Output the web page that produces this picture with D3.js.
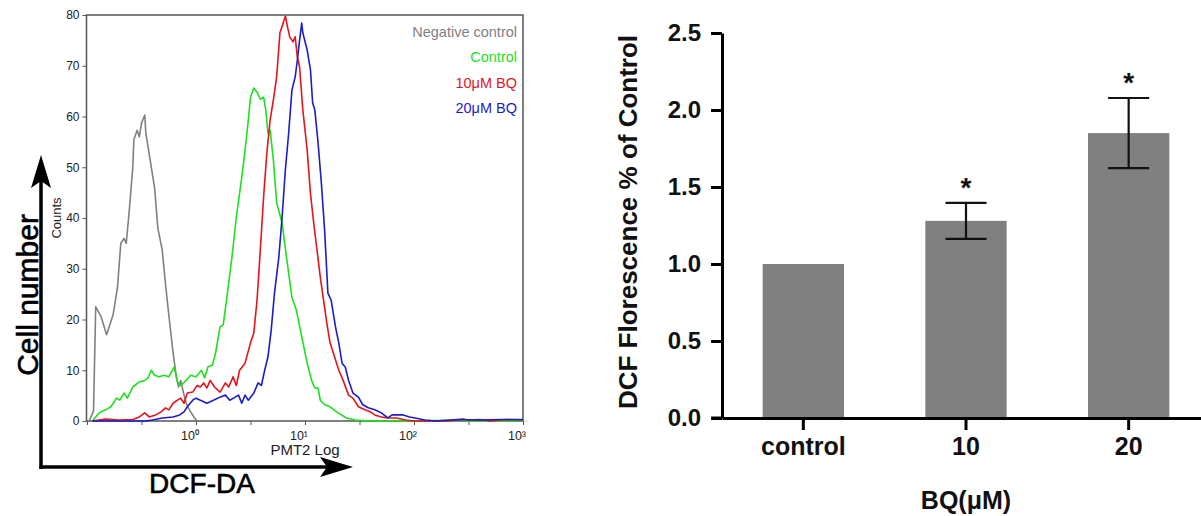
<!DOCTYPE html>
<html><head><meta charset="utf-8">
<script src="https://cdn.jsdelivr.net/npm/d3@7/dist/d3.min.js"></script>
<style>
html,body{margin:0;padding:0;background:#fff;}
svg{display:block;font-family:"Liberation Sans",Arial,sans-serif;}
</style></head>
<body>
<svg id="chart" width="1201" height="516"></svg>
<script>
// ---------- Left panel: flow cytometry histograms (x = log10 PMT2, y = counts) ----------
const histTicksY = [0,10,20,30,40,50,60,70,80];
const histTicksX = [-1,-0.5,0,0.5,1,1.5,2,2.5,3];
const histDecadeLabels = [[0,"10\u2070"],[1,"10\u00B9"],[2,"10\u00B2"],[3,"10\u00B3"]];
const seriesNames = ["Negative control","Control","10\u03BCM BQ","20\u03BCM BQ"];
const seriesColors = ["#808080","#1ee01e","#e3151b","#1c1cc8"];

const negativeControl = [[-0.98,0],[-0.94,2],[-0.92,22.5],[-0.87,20.5],[-0.82,17],[-0.76,21],[-0.72,26.4],[-0.69,35],[-0.66,36],[-0.64,35],[-0.61,42],[-0.58,50],[-0.57,55.4],[-0.54,57.3],[-0.52,56],[-0.50,58.7],[-0.47,60.3],[-0.46,56.7],[-0.41,50],[-0.38,46],[-0.35,38],[-0.31,33.7],[-0.28,27],[-0.25,21],[-0.21,13.4],[-0.18,8.7],[-0.16,6.7],[-0.14,8],[-0.12,6],[-0.09,3.5],[-0.06,2.2],[-0.02,0.8],[0.01,0]];

const control = [[-0.95,0],[-0.89,1.6],[-0.83,2.2],[-0.78,2.8],[-0.73,4.5],[-0.70,4.1],[-0.66,5.5],[-0.63,4.5],[-0.58,6.7],[-0.52,7.7],[-0.47,8],[-0.44,8.5],[-0.41,10],[-0.38,9],[-0.34,8.7],[-0.29,9],[-0.25,8.7],[-0.20,10.6],[-0.17,7.7],[-0.14,7],[-0.09,8],[-0.05,9],[0.00,8.7],[0.05,10],[0.08,8.5],[0.11,10.7],[0.15,11],[0.18,13.4],[0.22,18.5],[0.25,19],[0.28,23.8],[0.33,32.3],[0.37,40.2],[0.42,48],[0.45,53.4],[0.48,59.3],[0.50,63.8],[0.53,65.6],[0.56,64.8],[0.59,63.4],[0.62,63.8],[0.64,61.3],[0.66,56.7],[0.68,57.3],[0.71,51.4],[0.74,43],[0.79,39],[0.83,32.3],[0.88,24.4],[0.92,21.9],[0.97,16.6],[1.02,11.4],[1.06,8],[1.09,6.5],[1.12,6.5],[1.14,4.1],[1.18,3.2],[1.23,2.8],[1.29,1.8],[1.38,0.6],[1.46,0.2],[1.6,0],[2.0,0],[2.4,0.2],[2.5,0],[3.0,0]];

const bq10 = [[-0.95,0],[-0.83,0.4],[-0.70,0.2],[-0.58,0.3],[-0.52,0.8],[-0.47,1.6],[-0.43,0.8],[-0.37,1.2],[-0.32,1.8],[-0.28,2.6],[-0.25,2.2],[-0.21,3.5],[-0.17,4.1],[-0.14,4.5],[-0.11,3.5],[-0.08,5.5],[-0.03,5.7],[0.01,7],[0.04,6.7],[0.07,7.5],[0.10,6.5],[0.13,8],[0.17,6.7],[0.22,5.7],[0.27,7.5],[0.30,6.7],[0.34,8.7],[0.37,7],[0.40,10],[0.45,11.4],[0.50,15.4],[0.53,17.3],[0.56,23.8],[0.59,33.7],[0.62,44.1],[0.65,52.8],[0.68,59.3],[0.71,63.3],[0.74,67.8],[0.77,76.5],[0.80,78.4],[0.82,79.8],[0.84,77.6],[0.86,75.7],[0.89,74.7],[0.91,75.7],[0.93,71.7],[0.95,69.8],[0.98,61.3],[1.02,53.4],[1.05,44.9],[1.08,39],[1.11,33.7],[1.14,28.4],[1.17,23.8],[1.20,19.3],[1.23,15.4],[1.26,13.4],[1.31,10],[1.35,8],[1.40,5.1],[1.44,4.5],[1.49,2.8],[1.55,2.2],[1.60,1.8],[1.64,1.2],[1.70,0.8],[1.76,0.6],[1.84,0.6],[1.92,0.2],[2.0,0],[2.3,0],[2.45,0.4],[2.5,0.2],[2.6,0.3],[2.7,0],[2.85,0.3],[3.0,0.2]];

const bq20 = [[-0.95,0],[-0.46,0],[-0.40,0.2],[-0.31,0.6],[-0.21,0.8],[-0.15,1.2],[-0.11,1.8],[-0.08,2.8],[-0.03,4.1],[0.00,4.5],[0.04,4.1],[0.10,3.5],[0.16,4.1],[0.22,4.7],[0.27,5.1],[0.31,4.1],[0.36,4.7],[0.39,5.1],[0.42,3.5],[0.45,5.1],[0.48,4.1],[0.53,5.5],[0.57,7.5],[0.60,7],[0.63,10],[0.66,12.6],[0.69,17.9],[0.72,25.2],[0.76,32.3],[0.79,40.2],[0.82,49.5],[0.85,56.7],[0.88,65.2],[0.91,67.8],[0.93,71.1],[0.95,75],[0.97,78.4],[0.98,76.5],[1.02,73.1],[1.05,69.2],[1.07,62.7],[1.09,61.3],[1.12,54.8],[1.15,46.9],[1.18,37.6],[1.21,25.2],[1.24,23.8],[1.28,18.5],[1.31,15.4],[1.34,11.4],[1.37,10.6],[1.40,8],[1.44,5.5],[1.49,4.7],[1.53,3.2],[1.58,2.6],[1.64,2.2],[1.70,1.6],[1.76,0.6],[1.80,1.2],[1.84,1.2],[1.90,1.2],[1.96,0.8],[2.01,0.6],[2.1,0.2],[2.2,0],[2.4,0.3],[2.6,0.2],[2.8,0.3],[3.0,0.3]];

// ---------- Right panel: bar chart ----------
const barCategories = ["control","10","20"];
const barValues = [1.0, 1.28, 1.85];
const barErrors = [0, 0.117, 0.228];
const barSignificance = ["", "*", "*"];
const barTicksY = [0,0.5,1.0,1.5,2.0,2.5];

const svg = d3.select("#chart");

// ===== Left panel =====
const hx = d3.scaleLinear().domain([-1,3]).range([87,523]);
const hy = d3.scaleLinear().domain([0,80]).range([421,15]);
const L = svg.append("g");

// frame
L.append("rect").attr("x",hx(-1)-0.5).attr("y",hy(80)).attr("width",hx(3)-hx(-1)+0.5).attr("height",hy(0)-hy(80))
 .attr("fill","none").attr("stroke","#555").attr("stroke-width",1.5);

// y axis
const ay = L.append("g").attr("transform",`translate(${hx(-1)-0.5},0)`)
  .call(d3.axisLeft(hy).tickValues(histTicksY).tickSize(4).tickSizeOuter(0).tickPadding(3));
ay.select(".domain").remove();
ay.selectAll(".tick line").attr("stroke","#555").attr("stroke-width",1);
ay.selectAll(".tick text").attr("font-size",12).attr("fill","#222").attr("font-family","Liberation Sans, Arial");

// x axis ticks
const ax = L.append("g").attr("transform",`translate(0,${hy(0)})`)
  .call(d3.axisBottom(hx).tickValues(histTicksX).tickSize(4).tickSizeOuter(0).tickFormat(""));
ax.select(".domain").remove();
ax.selectAll(".tick line").attr("stroke","#555").attr("stroke-width",1);
L.selectAll(".xlab").data(histDecadeLabels).enter().append("text")
 .attr("x",d=>hx(d[0])-6).attr("y",hy(0)+19).attr("text-anchor","middle")
 .attr("font-size",12.5).attr("fill","#222").text(d=>d[1]);

// curves
const line = d3.line().x(d=>hx(d[0])).y(d=>hy(d[1]));
const allSeries = [negativeControl, control, bq10, bq20];
L.selectAll(".curve").data(allSeries).enter().append("path")
 .attr("d",line).attr("fill","none").attr("stroke",(d,i)=>seriesColors[i])
 .attr("stroke-width",1.6).attr("stroke-linejoin","round");

// legend
L.selectAll(".leg").data(seriesNames).enter().append("text")
 .attr("x",517).attr("y",(d,i)=>37+i*25.3).attr("text-anchor","end")
 .attr("font-size",14.5).attr("fill",(d,i)=>seriesColors[i]).text(d=>d);

// inner labels
L.append("text").attr("transform","translate(61,218) rotate(-90)").attr("text-anchor","middle")
 .attr("font-size",13).attr("fill","#222").text("Counts");
L.append("text").attr("x",305).attr("y",455).attr("text-anchor","middle")
 .attr("font-size",15).attr("fill","#222").text("PMT2 Log");

// big arrows
L.append("path").attr("d","M41,469 L41,175").attr("stroke","#000").attr("stroke-width",3.5).attr("fill","none");
L.append("path").attr("d","M39.5,467 L335,467").attr("stroke","#000").attr("stroke-width",3.5).attr("fill","none");
L.append("path").attr("d","M41,155 L51,188 L41,181 L31,188 Z").attr("fill","#000");
L.append("path").attr("d","M353,467 L320,457 L327,467 L320,477 Z").attr("fill","#000");
L.append("text").attr("transform","translate(38,295) rotate(-90)").attr("text-anchor","middle")
 .attr("font-size",30).attr("fill","#000").attr("stroke","#000").attr("stroke-width",0.6).text("Cell number");
L.append("text").attr("x",202).attr("y",493).attr("text-anchor","middle")
 .attr("font-size",28).attr("fill","#000").attr("stroke","#000").attr("stroke-width",0.6).text("DCF-DA");

// ===== Right panel =====
const by = d3.scaleLinear().domain([0,2.5]).range([418,33]);
const bx = d3.scaleBand().domain(barCategories).range([722,1210]).paddingInner(0.5).paddingOuter(0.25);
const R = svg.append("g");

R.selectAll(".bar").data(barValues).enter().append("rect")
 .attr("x",(d,i)=>bx(barCategories[i])).attr("width",bx.bandwidth())
 .attr("y",d=>by(d)).attr("height",d=>by(0)-by(d)).attr("fill","#808080");

// error bars
const eb = R.selectAll(".err").data(barValues.map((v,i)=>({v,e:barErrors[i],c:barCategories[i],s:barSignificance[i]})).filter(d=>d.e>0))
 .enter().append("g");
eb.append("line").attr("x1",d=>bx(d.c)+bx.bandwidth()/2).attr("x2",d=>bx(d.c)+bx.bandwidth()/2)
 .attr("y1",d=>by(d.v-d.e)).attr("y2",d=>by(d.v+d.e)).attr("stroke","#111").attr("stroke-width",2.2);
[-1,1].forEach(sgn=>{
  eb.append("line").attr("x1",d=>bx(d.c)+bx.bandwidth()/2-20.5).attr("x2",d=>bx(d.c)+bx.bandwidth()/2+20.5)
   .attr("y1",d=>by(d.v+sgn*d.e)).attr("y2",d=>by(d.v+sgn*d.e)).attr("stroke","#111").attr("stroke-width",2.2);
});
eb.append("text").attr("x",d=>bx(d.c)+bx.bandwidth()/2).attr("y",d=>by(d.v+d.e)-6)
 .attr("text-anchor","middle").attr("font-size",28).attr("font-weight","bold").attr("fill","#111").text(d=>d.s);

// axes
const rya = R.append("g").attr("transform","translate(722,0)")
 .call(d3.axisLeft(by).tickValues(barTicksY).tickFormat(d3.format(".1f")).tickSize(11).tickSizeOuter(0).tickPadding(10));
rya.select(".domain").attr("stroke","#000").attr("stroke-width",3);
rya.selectAll(".tick line").attr("stroke","#000").attr("stroke-width",3);
rya.selectAll(".tick text").attr("font-size",24).attr("font-weight","bold").attr("fill","#111")
 .attr("font-family","Liberation Sans, Arial");

const rxa = R.append("g").attr("transform","translate(0,418)")
 .call(d3.axisBottom(bx).tickSize(12).tickSizeOuter(0).tickPadding(7));
rxa.select(".domain").attr("stroke","#000").attr("stroke-width",3);
rxa.selectAll(".tick line").attr("stroke","#000").attr("stroke-width",3);
rxa.selectAll(".tick text").attr("font-size",25).attr("font-weight","bold").attr("fill","#111")
 .attr("font-family","Liberation Sans, Arial");
R.append("line").attr("x1",711).attr("x2",722).attr("y1",418).attr("y2",418).attr("stroke","#000").attr("stroke-width",3);

R.append("text").attr("transform","translate(637,222) rotate(-90)").attr("text-anchor","middle")
 .attr("font-size",26).attr("font-weight","bold").attr("fill","#111").text("DCF Florescence % of Control");
R.append("text").attr("x",966).attr("y",509).attr("text-anchor","middle")
 .attr("font-size",25).attr("font-weight","bold").attr("fill","#111").text("BQ(\u03BCM)");
</script>
</body></html>
